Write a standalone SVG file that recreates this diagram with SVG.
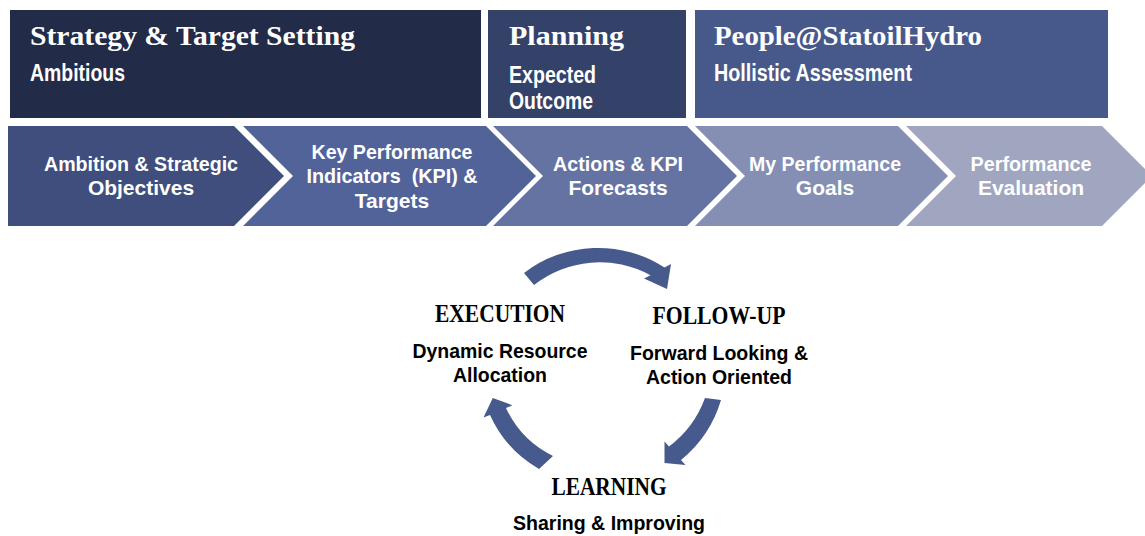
<svg xmlns="http://www.w3.org/2000/svg" width="1145" height="536" viewBox="0 0 1145 536">
<style>
.hd{font-family:"Liberation Serif","Times New Roman",serif;font-weight:bold;fill:#ffffff;font-size:28px}
.sb{font-family:"Liberation Sans Narrow","Liberation Sans",Arial,sans-serif;font-weight:bold;fill:#ffffff;font-size:23px}
.ch{font-family:"Liberation Sans Narrow","Liberation Sans",Arial,sans-serif;font-weight:bold;fill:#ffffff;font-size:21px;text-anchor:middle}
.ct{font-family:"Liberation Serif","Times New Roman",serif;font-weight:bold;fill:#000000;font-size:25px;text-anchor:middle}
.cs{font-family:"Liberation Sans Narrow","Liberation Sans",Arial,sans-serif;font-weight:bold;fill:#000000;font-size:21px;text-anchor:middle}
.arr{fill:#475a8d}
</style>
<rect width="1145" height="536" fill="#ffffff"/>
<g id="box-strategy">
<rect x="10" y="10" width="471" height="108" fill="#222b48"/>
<text class="hd" x="30" y="45" textLength="325" lengthAdjust="spacingAndGlyphs">Strategy &amp; Target Setting</text>
<text class="sb" x="30" y="81" textLength="95" lengthAdjust="spacingAndGlyphs">Ambitious</text>
</g>
<g id="box-planning">
<rect x="488" y="10" width="198" height="108" fill="#344169"/>
<text class="hd" x="509" y="45" textLength="115" lengthAdjust="spacingAndGlyphs">Planning</text>
<text class="sb" x="509" y="83" textLength="87" lengthAdjust="spacingAndGlyphs">Expected</text>
<text class="sb" x="509" y="109" textLength="84" lengthAdjust="spacingAndGlyphs">Outcome</text>
</g>
<g id="box-people">
<rect x="695" y="10" width="413" height="108" fill="#47598b"/>
<text class="hd" x="714" y="45" textLength="268" lengthAdjust="spacingAndGlyphs">People@StatoilHydro</text>
<text class="sb" x="714" y="81" textLength="198" lengthAdjust="spacingAndGlyphs">Hollistic Assessment</text>
</g>
<g id="chev-ambition">
<polygon points="8,126 234,126 284,176 234,226 8,226" fill="#3f4e7d"/>
<text class="ch" x="141" y="171" textLength="194" lengthAdjust="spacingAndGlyphs">Ambition &amp; Strategic</text>
<text class="ch" x="141" y="195">Objectives</text>
</g>
<g id="chev-kpi">
<polygon points="243,126 486,126 536,176 486,226 243,226 293,176" fill="#52639a"/>
<text class="ch" x="392" y="159" textLength="161" lengthAdjust="spacingAndGlyphs">Key Performance</text>
<text class="ch" x="392" y="183" textLength="171" lengthAdjust="spacingAndGlyphs" style="white-space:pre">Indicators  (KPI) &amp;</text>
<text class="ch" x="392" y="208">Targets</text>
</g>
<g id="chev-actions">
<polygon points="493,126 687,126 737,176 687,226 493,226 543,176" fill="#6573a3"/>
<text class="ch" x="618" y="171" textLength="130" lengthAdjust="spacingAndGlyphs">Actions &amp; KPI</text>
<text class="ch" x="618" y="195">Forecasts</text>
</g>
<g id="chev-goals">
<polygon points="695,126 898,126 948,176 898,226 695,226 745,176" fill="#848fb3"/>
<text class="ch" x="825" y="171" textLength="152" lengthAdjust="spacingAndGlyphs">My Performance</text>
<text class="ch" x="825" y="195">Goals</text>
</g>
<g id="chev-evaluation">
<polygon points="906,126 1102,126 1152,176 1102,226 906,226 956,176" fill="#a0a6bf"/>
<text class="ch" x="1031" y="171" textLength="121" lengthAdjust="spacingAndGlyphs">Performance</text>
<text class="ch" x="1031" y="195">Evaluation</text>
</g>
<g id="execution">
<text class="ct" x="500" y="322" textLength="130" lengthAdjust="spacingAndGlyphs">EXECUTION</text>
<text class="cs" x="500" y="358" textLength="175" lengthAdjust="spacingAndGlyphs">Dynamic Resource</text>
<text class="cs" x="500" y="382" textLength="94" lengthAdjust="spacingAndGlyphs">Allocation</text>
</g>
<g id="follow-up">
<text class="ct" x="719" y="324" textLength="133" lengthAdjust="spacingAndGlyphs">FOLLOW-UP</text>
<text class="cs" x="719" y="360" textLength="178" lengthAdjust="spacingAndGlyphs">Forward Looking &amp;</text>
<text class="cs" x="719" y="384" textLength="146" lengthAdjust="spacingAndGlyphs">Action Oriented</text>
</g>
<g id="learning">
<text class="ct" x="609" y="495" textLength="115" lengthAdjust="spacingAndGlyphs">LEARNING</text>
<text class="cs" x="609" y="530" textLength="192" lengthAdjust="spacingAndGlyphs">Sharing &amp; Improving</text>
</g>
<g id="connectors">
<path class="arr" d="M524,273 A122,122 0 0 1 664.5,267.5 L671,264 L667,289 L644,278.5 L650.5,275.3 A106,106 0 0 0 534,285 Z"/>
<path class="arr" d="M721,400 A122,122 0 0 1 681,460 L685.5,465 L664.5,463 L664.5,441.5 L669,446.5 A106,106 0 0 0 705,398 Z"/>
<path class="arr" d="M539,469 A118,118 0 0 1 490,415 L483.5,417.5 L492.8,398 L512.5,405.3 L506,408 A100,100 0 0 0 553,456 Z"/>
</g>
</svg>
